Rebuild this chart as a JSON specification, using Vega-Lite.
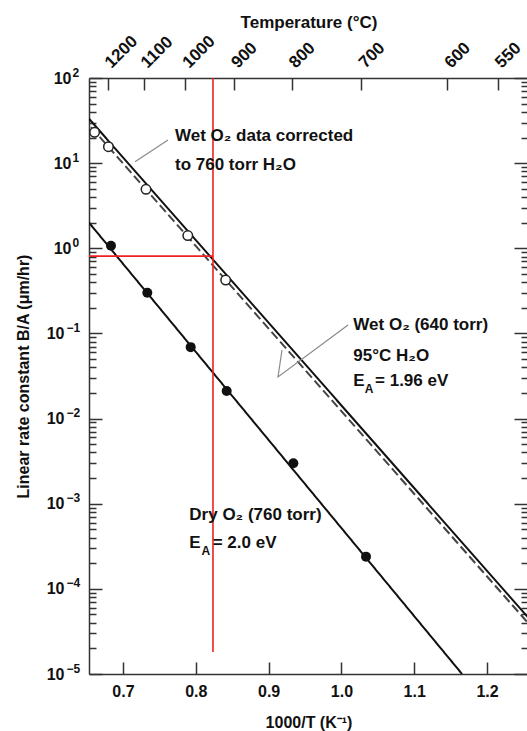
{
  "$schema": "https://vega.github.io/schema/vega-lite/v6.json",
  "width": 439,
  "height": 596,
  "autosize": {"type": "none"},
  "padding": {"left": 89, "top": 78, "right": 0, "bottom": 57},
  "background": "white",
  "config": {
    "view": {"stroke": null},
    "font": "'Liberation Sans Narrow', 'Liberation Sans', sans-serif",
    "axis": {
      "grid": false,
      "labelFont": "'Liberation Sans Narrow', 'Liberation Sans', sans-serif",
      "labelFontWeight": "bold",
      "labelFontSize": 16,
      "labelColor": "#111",
      "titleFont": "'Liberation Sans Narrow', 'Liberation Sans', sans-serif",
      "titleFontWeight": "bold",
      "titleFontSize": 16,
      "titleColor": "#111",
      "domainColor": "#333",
      "domainWidth": 1.5,
      "tickColor": "#333",
      "tickWidth": 1.5,
      "labelOverlap": false,
      "labelFlush": false
    }
  },
  "datasets": {
    "lines": [
      {"series": "wet", "x": 0.6533, "y": 33.2},
      {"series": "wet", "x": 1.2563, "y": 4.63e-5},
      {"series": "wetdash", "x": 0.6561, "y": 26.5},
      {"series": "wetdash", "x": 1.2563, "y": 3.98e-5},
      {"series": "dry", "x": 0.6533, "y": 2.0},
      {"series": "dry", "x": 1.1657, "y": 1e-5}
    ],
    "wetpts": [
      {"x": 0.661, "y": 23},
      {"x": 0.680, "y": 15.6},
      {"x": 0.7316, "y": 4.93},
      {"x": 0.789, "y": 1.41},
      {"x": 0.841, "y": 0.424}
    ],
    "drypts": [
      {"x": 0.6835, "y": 1.07},
      {"x": 0.7334, "y": 0.30},
      {"x": 0.793, "y": 0.069},
      {"x": 0.8424, "y": 0.0211},
      {"x": 0.934, "y": 0.00298},
      {"x": 1.0338, "y": 0.000239}
    ],
    "red": [
      {"x": 0.8236, "x2": 0.8236, "y": 1.81e-5, "y2": 100},
      {"x": 0.6533, "x2": 0.8236, "y": 0.81, "y2": 0.81}
    ],
    "leaders": [
      {"id": "a", "ord": 1, "x": 0.7618, "y": 18.7},
      {"id": "a", "ord": 2, "x": 0.7165, "y": 10.4},
      {"id": "b", "ord": 1, "x": 1.0091, "y": 0.1256},
      {"id": "b", "ord": 2, "x": 0.9129, "y": 0.03076},
      {"id": "b", "ord": 3, "x": 0.9184, "y": 0.0639}
    ],
    "labels": [
      {"x": 0.7714, "y": 18.35, "text": "Wet O₂ data corrected"},
      {"x": 0.7714, "y": 8.31, "text": "to 760 torr H₂O"},
      {"x": 1.0164, "y": 0.1097, "text": "Wet O₂ (640 torr)"},
      {"x": 1.0164, "y": 0.0474, "text": "95°C H₂O"},
      {"x": 1.0164, "y": 0.02412, "text": "E"},
      {"x": 1.0462, "y": 0.02412, "text": "= 1.96 eV"},
      {"x": 0.7911, "y": 0.0006436, "text": "Dry O₂ (760 torr)"},
      {"x": 0.7911, "y": 0.0003042, "text": "E"},
      {"x": 0.8232, "y": 0.0003042, "text": "= 2.0 eV"}
    ],
    "subs": [
      {"x": 1.0320, "y": 0.01978, "text": "A"},
      {"x": 0.8078, "y": 0.0002496, "text": "A"}
    ]
  },
  "resolve": {"axis": {"x": "independent", "y": "independent"}},
  "layer": [
    {
      "data": {"name": "lines"},
      "mark": {"type": "line", "strokeWidth": 2, "clip": true},
      "encoding": {
        "x": {"field": "x", "type": "quantitative",
          "scale": {"domain": [0.6533, 1.2563], "nice": false, "zero": false},
          "axis": {"orient": "bottom", "values": [0.7, 0.8, 0.9, 1.0, 1.1, 1.2], "format": ".1f", "ticks": false, "labelPadding": 9, "title": "1000/T (K⁻¹)", "titlePadding": 15}},
        "y": {"field": "y", "type": "quantitative",
          "scale": {"type": "log", "domain": [1e-5, 100], "nice": false},
          "axis": {"orient": "left", "values": [1e-5, 1e-4, 1e-3, 1e-2, 1e-1, 1, 10, 100], "ticks": false,
            "labelPadding": {"condition": {"test": "datum.value < 0.5", "value": 25}, "value": 18},
            "title": "Linear rate constant B/A (μm/hr)", "titlePadding": 15,
            "labelExpr": "'10'"}},
        "detail": {"field": "series"},
        "strokeDash": {"field": "series", "type": "nominal", "scale": {"domain": ["wet", "wetdash", "dry"], "range": [[1, 0], [9, 4], [1, 0]]}, "legend": null},
        "color": {"field": "series", "type": "nominal", "scale": {"domain": ["wet", "wetdash", "dry"], "range": ["#111111", "#444444", "#111111"]}, "legend": null}
      }
    },
    {
      "data": {"name": "wetpts"},
      "mark": {"type": "point", "shape": "circle", "filled": true, "fill": "white", "stroke": "#222", "strokeWidth": 1.5, "size": 90, "opacity": 1},
      "encoding": {
        "x": {"field": "x", "type": "quantitative",
          "axis": {"orient": "bottom", "values": [0.7, 0.8, 0.9, 1.0, 1.1, 1.2], "labels": false, "domain": false, "tickSize": -12, "title": null}},
        "y": {"field": "y", "type": "quantitative",
          "axis": {"orient": "left", "values": [1e-5, 1e-4, 1e-3, 1e-2, 1e-1, 1, 10, 100], "labels": false, "domain": false, "tickSize": -13, "title": null}}
      }
    },
    {
      "data": {"name": "drypts"},
      "mark": {"type": "circle", "color": "#111", "size": 100, "opacity": 1},
      "encoding": {
        "x": {"field": "x", "type": "quantitative",
          "axis": {"orient": "top", "values": [0.67882, 0.72825, 0.78545, 0.85241, 0.93184, 1.02759, 1.14528, 1.21485], "ticks": false, "labelExpr": "format(1000 / datum.value - 273.15, '.0f')", "labelAngle": -45, "labelAlign": "left", "labelBaseline": "middle", "labelPadding": 13, "labelFontSize": 17, "title": "Temperature (°C)", "titlePadding": 0, "titleFontSize": 17}},
        "y": {"field": "y", "type": "quantitative",
          "axis": {"orient": "left", "labels": false, "domain": false, "tickSize": -7, "title": null,
            "values": [2e-5, 3e-5, 4e-5, 5e-5, 6e-5, 7e-5, 8e-5, 9e-5, 2e-4, 3e-4, 4e-4, 5e-4, 6e-4, 7e-4, 8e-4, 9e-4, 2e-3, 3e-3, 4e-3, 5e-3, 6e-3, 7e-3, 8e-3, 9e-3, 0.02, 0.03, 0.04, 0.05, 0.06, 0.07, 0.08, 0.09, 0.2, 0.3, 0.4, 0.5, 0.6, 0.7, 0.8, 0.9, 2, 3, 4, 5, 6, 7, 8, 9, 20, 30, 40, 50, 60, 70, 80, 90]}}
      }
    },
    {
      "data": {"name": "red"},
      "mark": {"type": "rule", "color": "#ee2020", "strokeWidth": 1.6},
      "encoding": {
        "x": {"field": "x", "type": "quantitative",
          "axis": {"orient": "top", "values": [0.67882, 0.72825, 0.78545, 0.85241, 0.93184, 1.02759, 1.14528, 1.21485], "labels": false, "domain": false, "tickSize": -12, "title": null}},
        "x2": {"field": "x2"},
        "y": {"field": "y", "type": "quantitative",
          "axis": {"orient": "right", "values": [1e-5, 1e-4, 1e-3, 1e-2, 1e-1, 1, 10, 100], "labels": false, "domain": true, "tickSize": -14, "title": null}},
        "y2": {"field": "y2"}
      }
    },
    {
      "data": {"name": "leaders"},
      "mark": {"type": "line", "color": "#8a8a8a", "strokeWidth": 1.2},
      "encoding": {
        "x": {"field": "x", "type": "quantitative", "axis": null},
        "y": {"field": "y", "type": "quantitative",
          "axis": {"orient": "right", "labels": false, "domain": false, "tickSize": -7, "title": null,
            "values": [2e-5, 3e-5, 4e-5, 5e-5, 6e-5, 7e-5, 8e-5, 9e-5, 2e-4, 3e-4, 4e-4, 5e-4, 6e-4, 7e-4, 8e-4, 9e-4, 2e-3, 3e-3, 4e-3, 5e-3, 6e-3, 7e-3, 8e-3, 9e-3, 0.02, 0.03, 0.04, 0.05, 0.06, 0.07, 0.08, 0.09, 0.2, 0.3, 0.4, 0.5, 0.6, 0.7, 0.8, 0.9, 2, 3, 4, 5, 6, 7, 8, 9, 20, 30, 40, 50, 60, 70, 80, 90]}},
        "detail": {"field": "id"},
        "order": {"field": "ord", "type": "quantitative"}
      }
    },
    {
      "data": {"name": "labels"},
      "mark": {"type": "text", "align": "left", "baseline": "alphabetic", "fontSize": 17, "fontWeight": "bold", "color": "#111", "font": "'Liberation Sans Narrow', 'Liberation Sans', sans-serif"},
      "encoding": {
        "x": {"field": "x", "type": "quantitative", "axis": null},
        "y": {"field": "y", "type": "quantitative",
          "axis": {"orient": "left", "values": [1e-5, 1e-4, 1e-3, 1e-2, 1e-1, 1, 10, 100], "ticks": false, "domain": false, "title": null,
            "labelAlign": "left", "labelFontSize": 12, "labelOffset": -6,
            "labelPadding": {"condition": {"test": "datum.value < 0.5", "value": 23}, "value": 17},
            "labelExpr": "format(round(log(datum.value) / LN10), 'd')"}},
        "text": {"field": "text"}
      }
    },
    {
      "data": {"name": "subs"},
      "mark": {"type": "text", "align": "left", "baseline": "alphabetic", "fontSize": 12, "fontWeight": "bold", "color": "#111", "font": "'Liberation Sans Narrow', 'Liberation Sans', sans-serif"},
      "encoding": {
        "x": {"field": "x", "type": "quantitative", "axis": null},
        "y": {"field": "y", "type": "quantitative", "axis": null},
        "text": {"field": "text"}
      }
    }
  ]
}
